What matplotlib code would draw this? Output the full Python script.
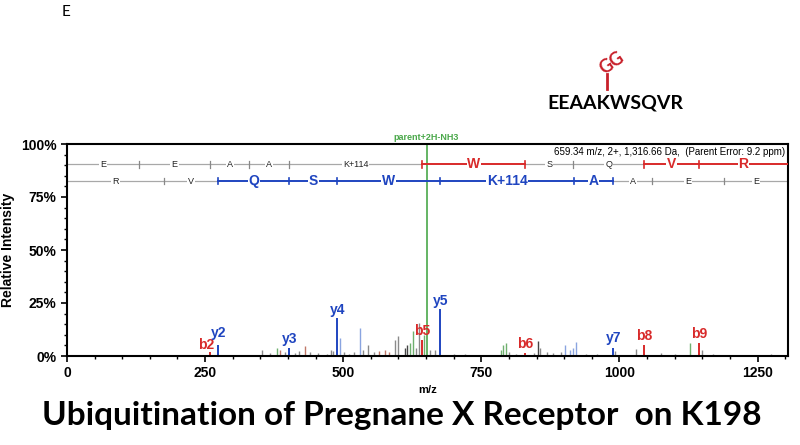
import numpy as np
import matplotlib.pyplot as plt

plt.rcParams['font.family'] = ['Liberation Sans', 'DejaVu Sans']

# labelled fragment ions (m/z, relative intensity %)
ion_names = ['b2', 'y2', 'y3', 'y4', 'b5', 'y5', 'b6', 'y7', 'b8', 'b9']
ion_mz = [259.09, 274.19, 402.25, 489.28, 643.31, 675.36, 829.39, 988.54, 1044.48, 1143.55]
ion_int = [2.0, 5.0, 4.0, 18.0, 7.5, 22.0, 1.5, 4.0, 5.0, 6.0]

parent_mz = 650.82
parent_int = 100.0

# unlabelled peaks (m/z, intensity %, colour key)
other_mz = [200, 230, 300, 320, 353, 368, 380, 385, 395, 412, 420, 430, 440, 455, 470, 478,
            482, 494, 502, 510, 520, 530, 536, 544, 555, 565, 575, 583, 593, 600, 611,
            616, 620, 626, 632, 638, 646, 657, 666, 700, 720, 760, 785, 790, 795, 800,
            812, 845, 853, 857, 868, 880, 895, 902, 910, 916, 922, 940, 960, 992, 1030,
            1075, 1100, 1128, 1150, 1170, 1275]
other_int = [0.5, 0.4, 0.6, 0.5, 3.0, 1.5, 4.0, 3.0, 2.0, 1.5, 2.5, 4.5, 2.0, 1.5, 1.0, 3.0,
             2.5, 8.5, 2.0, 1.0, 2.0, 13.0, 3.0, 5.0, 2.0, 2.5, 3.0, 2.0, 7.5, 9.5, 4.0,
             5.0, 6.0, 12.0, 4.0, 15.5, 10.0, 3.0, 3.0, 1.0, 0.8, 0.5, 3.0, 5.0, 6.0, 2.0,
             1.0, 1.5, 7.0, 4.0, 2.0, 1.5, 2.0, 5.0, 3.0, 4.0, 6.5, 1.0, 1.0, 2.5, 3.5,
             1.5, 1.0, 6.0, 3.0, 0.8, 1.0]
other_col = ['k', 'k', 'k', 'k', 'k', 'k', 'g', 'r', 'k', 'k', 'k', 'r', 'k', 'k', 'k', 'k',
             'k', 'c', 'k', 'k', 'k', 'c', 'k', 'k', 'k', 'r', 'r', 'r', 'k', 'k', 'd',
             'd', 'g', 'g', 'k', 'k', 'g', 'k', 'k', 'k', 'k', 'k', 'g', 'g', 'g', 'k',
             'k', 'k', 'd', 'k', 'k', 'k', 'k', 'c', 'c', 'c', 'c', 'k', 'k', 'k', 'k',
             'k', 'k', 'g', 'k', 'k', 'k']

# fragment ladders: boundaries in m/z, residues between them, covered or not
b_bounds = [0, 130.05, 259.09, 330.13, 401.17, 643.31, 829.39, 916.42, 1044.48, 1143.55, 1305]
b_letters = ['E', 'E', 'A', 'A', 'K+114', 'W', 'S', 'Q', 'V', 'R']
b_hit = [0, 0, 0, 0, 0, 1, 0, 0, 1, 1]
y_bounds = [0, 175.12, 274.19, 402.25, 489.28, 675.36, 917.50, 988.54, 1059.57, 1188.62, 1305]
y_letters = ['R', 'V', 'Q', 'S', 'W', 'K+114', 'A', 'A', 'E', 'E']
y_hit = [0, 0, 1, 1, 1, 1, 1, 0, 0, 0]

RED = '#d82a2a'
BLUE = '#1f45c0'
GREEN = '#4aa84a'
pal = {'k': '#8a8a8a', 'g': '#6fb06f', 'c': '#8aa4e0', 'r': '#c07868', 'd': '#454545'}

W, H = 800, 445
fig = plt.figure(figsize=(8, 4.45), dpi=100)
ax = fig.add_axes([67 / W, 1 - 356 / H, (788 - 67) / W, (356 - 144) / H])

ax.vlines(other_mz, 0, other_int, colors=[pal[c] for c in other_col], lw=1)
ax.vlines(parent_mz, 0, parent_int, colors=GREEN, lw=1.2)
for name, mz, it in zip(ion_names, ion_mz, ion_int):
    col = RED if name[0] == 'b' else BLUE
    ax.vlines(mz, 0, it, colors=col, lw=1.4)

# ion labels
lab_y = {'b2': 2.0, 'y2': 7.5, 'y3': 4.5, 'y4': 18.5, 'b5': 8.5, 'y5': 22.5,
         'b6': 2.2, 'y7': 5.0, 'b8': 6.0, 'b9': 7.0}
lab_dx = {'b2': -7, 'y2': 0}
for name, mz in zip(ion_names, ion_mz):
    col = RED if name[0] == 'b' else BLUE
    ax.text(mz + lab_dx.get(name, 0), lab_y[name], name, color=col, fontsize=10,
            fontweight='bold', ha='center', va='bottom')

ax.text(parent_mz, 101, 'parent+2H-NH3', color=GREEN, fontsize=6.5, fontweight='bold',
        ha='center', va='bottom', clip_on=False)
ax.text(1300, 98.5, '659.34 m/z, 2+, 1,316.66 Da,  (Parent Error: 9.2 ppm)',
        fontsize=7, ha='right', va='top')


def ladder(bounds, letters, hit, yrow, col):
    for i, let in enumerate(letters):
        x0, x1 = bounds[i], bounds[i + 1]
        if hit[i]:
            ax.plot([x0, x1], [yrow, yrow], color=col, lw=1.4, zorder=3)
            ax.text((x0 + x1) / 2, yrow, let, color=col, fontsize=10, fontweight='bold',
                    ha='center', va='center', zorder=4,
                    bbox=dict(fc='white', ec='none', pad=0.5))
        else:
            ax.plot([x0, x1], [yrow, yrow], color='#a8a8a8', lw=0.9, zorder=2)
            ax.text((x0 + x1) / 2, yrow, let, color='#222222', fontsize=6.5,
                    ha='center', va='center', zorder=4,
                    bbox=dict(fc='white', ec='none', pad=0.8))
    for i in range(1, len(bounds) - 1):
        c = col if (hit[i - 1] or hit[i]) else '#888888'
        ax.plot([bounds[i], bounds[i]], [yrow - 1.6, yrow + 1.6], color=c,
                lw=1.2 if c == col else 0.9, zorder=3)


ladder(b_bounds, b_letters, b_hit, 90.5, RED)
ladder(y_bounds, y_letters, y_hit, 82.5, BLUE)

ax.set_xlim(0, 1305)
ax.set_ylim(0, 100)
ax.set_xticks(np.arange(0, 1301, 250))
ax.set_xticks(np.arange(0, 1301, 50), minor=True)
ax.set_yticks([0, 25, 50, 75, 100])
ax.set_yticklabels(['0%', '25%', '50%', '75%', '100%'])
ax.set_yticks(np.arange(0, 101, 5), minor=True)
ax.tick_params(which='major', length=4, width=1.2, labelsize=10)
ax.tick_params(which='minor', length=2.5, width=1)
for lab in ax.get_xticklabels() + ax.get_yticklabels():
    lab.set_fontweight('bold')
for s in ax.spines.values():
    s.set_linewidth(1.5)
ax.set_xlabel('m/z', fontsize=8, fontweight='bold', labelpad=3)
ax.set_ylabel('Relative Intensity', fontsize=10, fontweight='bold', labelpad=4)

# panel letter, peptide and title
fig.text(62 / W, 1 - 12 / H, 'E', fontsize=11, family='Lato', ha='left', va='center')
fig.text(615 / W, 1 - 103 / H, 'EEAAKWSQVR', fontsize=14, family='Lato',
         fontweight='bold', ha='center', va='center')
fig.text(612 / W, 1 - 63 / H, 'GG', fontsize=13, family='Lato', fontweight='bold',
         color='#c8202a', rotation=35, ha='center', va='center')
fig.add_artist(plt.Line2D([607 / W, 607 / W], [1 - 74 / H, 1 - 89 / H], color='#c8202a',
                          lw=2, transform=fig.transFigure))
fig.text(402 / W, 1 - 416 / H, 'Ubiquitination of Pregnane X Receptor  on K198',
         fontsize=24, family='Lato', fontweight='bold', ha='center', va='center')

fig.savefig('out.png', dpi=100)
